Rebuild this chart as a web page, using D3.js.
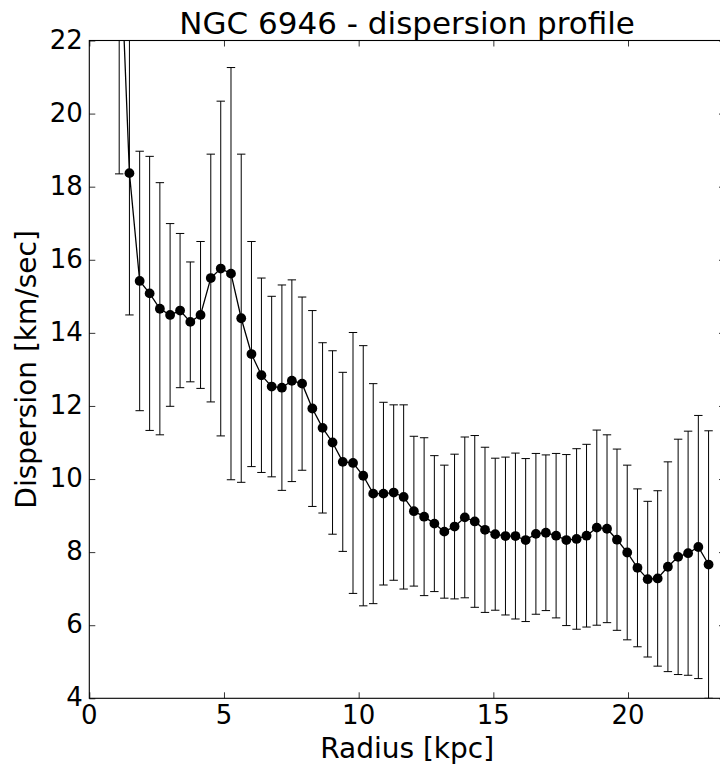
<!DOCTYPE html>
<html>
<head>
<meta charset="utf-8">
<script src="https://cdn.jsdelivr.net/npm/d3@7"></script>
<style>
  html, body { margin: 0; padding: 0; background: #fff; }
  svg { display: block; }
  text { font-family: "DejaVu Sans", sans-serif; fill: #000; }
</style>
</head>
<body>
<svg id="chart" width="720" height="767"></svg>
<script>
// Radial velocity dispersion profile of NGC 6946
const radius = [
  1.11, 1.49, 1.87, 2.24, 2.62, 3.00, 3.37, 3.75, 4.13, 4.51,
  4.88, 5.26, 5.64, 6.02, 6.39, 6.77, 7.15, 7.52, 7.90, 8.28,
  8.66, 9.03, 9.41, 9.79, 10.17, 10.54, 10.92, 11.30, 11.67, 12.05,
  12.43, 12.81, 13.18, 13.56, 13.94, 14.31, 14.69, 15.07, 15.45, 15.82,
  16.20, 16.58, 16.95, 17.33, 17.71, 18.09, 18.46, 18.84, 19.22, 19.59,
  19.97, 20.35, 20.73, 21.10, 21.48, 21.86, 22.23, 22.61, 22.99
];
const dispersion = [
  25.40, 18.37, 15.42, 15.08, 14.66, 14.49, 14.61, 14.30, 14.49, 15.50,
  15.76, 15.62, 14.40, 13.42, 12.84, 12.53, 12.50, 12.69, 12.61, 11.93,
  11.40, 11.00, 10.47, 10.44, 10.09, 9.60, 9.60, 9.63, 9.51, 9.12,
  8.97, 8.78, 8.56, 8.70, 8.95, 8.84, 8.61, 8.49, 8.44, 8.44,
  8.33, 8.50, 8.53, 8.45, 8.33, 8.36, 8.45, 8.67, 8.64, 8.34,
  7.99, 7.57, 7.26, 7.28, 7.60, 7.87, 7.97, 8.14, 7.66
];
const dispersionErr = [
  7.05, 3.88, 3.55, 3.75, 3.45, 2.50, 2.11, 1.64, 2.01, 3.39,
  4.58, 5.64, 4.49, 3.08, 2.66, 2.47, 2.81, 2.76, 2.37, 2.68,
  2.33, 2.51, 2.45, 3.57, 3.56, 3.01, 2.50, 2.40, 2.52, 2.05,
  2.16, 1.86, 1.82, 1.98, 2.20, 2.35, 2.26, 2.08, 2.16, 2.27,
  2.23, 2.20, 2.13, 2.25, 2.34, 2.47, 2.50, 2.67, 2.57, 2.48,
  2.39, 2.16, 2.13, 2.40, 2.87, 3.22, 3.34, 3.60, 3.66
];
const xTicks = [0, 5, 10, 15, 20];
const yTicks = [4, 6, 8, 10, 12, 14, 16, 18, 20, 22];
const xDomain = [0, 23.6];
const yDomain = [4, 22];

const titleText = "NGC 6946 - dispersion profile";
const xLabelText = "Radius [kpc]";
const yLabelText = "Dispersion [km/sec]";

const points = radius.map((r, i) => ({ r, v: dispersion[i], e: dispersionErr[i] }));

const plot = { left: 89.3, right: 725, top: 40.5, bottom: 698.3 };
const svg = d3.select("#chart");

const x = d3.scaleLinear().domain(xDomain).range([plot.left, plot.right]);
const y = d3.scaleLinear().domain(yDomain).range([plot.bottom, plot.top]);

svg.append("defs").append("clipPath").attr("id", "plot-clip")
  .append("rect")
  .attr("x", plot.left).attr("y", plot.top)
  .attr("width", plot.right - plot.left).attr("height", plot.bottom - plot.top);

const data = svg.append("g").attr("clip-path", "url(#plot-clip)");

// error bars with caps
const capHalf = 4.2;
const bars = data.append("g").attr("stroke", "#000").attr("stroke-width", 1).attr("fill", "none");
bars.selectAll("line.err").data(points).join("line")
  .attr("class", "err")
  .attr("x1", d => x(d.r)).attr("x2", d => x(d.r))
  .attr("y1", d => y(d.v - d.e)).attr("y2", d => y(d.v + d.e));
bars.selectAll("line.cap-lo").data(points).join("line")
  .attr("class", "cap-lo")
  .attr("x1", d => x(d.r) - capHalf).attr("x2", d => x(d.r) + capHalf)
  .attr("y1", d => y(d.v - d.e)).attr("y2", d => y(d.v - d.e));
bars.selectAll("line.cap-hi").data(points).join("line")
  .attr("class", "cap-hi")
  .attr("x1", d => x(d.r) - capHalf).attr("x2", d => x(d.r) + capHalf)
  .attr("y1", d => y(d.v + d.e)).attr("y2", d => y(d.v + d.e));

// connecting line
data.append("path")
  .datum(points)
  .attr("fill", "none")
  .attr("stroke", "#000")
  .attr("stroke-width", 1.3)
  .attr("d", d3.line().x(d => x(d.r)).y(d => y(d.v)));

// markers
data.append("g").selectAll("circle").data(points).join("circle")
  .attr("cx", d => x(d.r)).attr("cy", d => y(d.v))
  .attr("r", 4.9).attr("fill", "#000");

// axes: ticks point inward on all four sides
const tickLen = 6;
const axBottom = d3.axisTop(x).tickValues(xTicks).tickSize(tickLen).tickFormat("");
const axTop = d3.axisBottom(x).tickValues(xTicks).tickSize(tickLen).tickFormat("");
const axLeft = d3.axisRight(y).tickValues(yTicks).tickSize(tickLen).tickFormat("");
const axRight = d3.axisLeft(y).tickValues(yTicks).tickSize(tickLen).tickFormat("");

function styleAxis(g) {
  g.select(".domain").remove();
  g.selectAll(".tick line").attr("stroke", "#000").attr("stroke-width", 0.8);
}
svg.append("g").attr("transform", `translate(0,${plot.bottom})`).call(axBottom).call(styleAxis);
svg.append("g").attr("transform", `translate(0,${plot.top})`).call(axTop).call(styleAxis);
svg.append("g").attr("transform", `translate(${plot.left},0)`).call(axLeft).call(styleAxis);
svg.append("g").attr("transform", `translate(${plot.right},0)`).call(axRight).call(styleAxis);

// frame
svg.append("rect")
  .attr("x", plot.left).attr("y", plot.top)
  .attr("width", plot.right - plot.left).attr("height", plot.bottom - plot.top)
  .attr("fill", "none").attr("stroke", "#000").attr("stroke-width", 1.1);

// tick labels
const tickFont = 26;
svg.append("g").selectAll("text").data(xTicks).join("text")
  .attr("x", d => x(d)).attr("y", plot.bottom + 25.7)
  .attr("text-anchor", "middle").attr("font-size", tickFont)
  .text(d => d);
svg.append("g").selectAll("text").data(yTicks).join("text")
  .attr("x", plot.left - 6.5).attr("y", d => y(d) + 8)
  .attr("text-anchor", "end").attr("font-size", tickFont)
  .text(d => d);

// axis labels and title
svg.append("text")
  .attr("x", (plot.left + plot.right) / 2).attr("y", 758)
  .attr("text-anchor", "middle").attr("font-size", 28)
  .text(xLabelText);
svg.append("text")
  .attr("transform", `translate(36,${(plot.top + plot.bottom) / 2}) rotate(-90)`)
  .attr("text-anchor", "middle").attr("font-size", 28)
  .text(yLabelText);
svg.append("text")
  .attr("x", (plot.left + plot.right) / 2).attr("y", 33.5)
  .attr("text-anchor", "middle").attr("font-size", 31)
  .text(titleText);
</script>
</body>
</html>
